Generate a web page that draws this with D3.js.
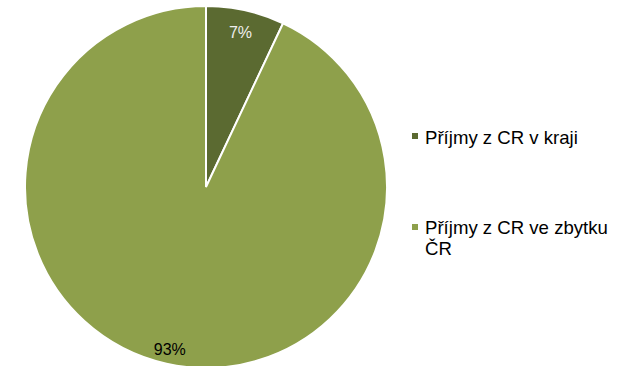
<!DOCTYPE html>
<html>
<head>
<meta charset="utf-8">
<script src="https://cdn.jsdelivr.net/npm/d3@7"></script>
<style>
  html, body { margin: 0; padding: 0; background: #fff; }
  svg { display: block; font-family: "Liberation Sans", Arial, sans-serif; }
</style>
</head>
<body>
<div id="chart"></div>
<script>
// data
const categories = ['Příjmy z CR v kraji', 'Příjmy z CR ve zbytku ČR']
const legend_lines = [['Příjmy z CR v kraji'], ['Příjmy z CR ve zbytku', 'ČR']]
const values = [7, 93]
const value_labels = ['7%', '93%']
const colors = ['#5b6a31', '#8ea04b']

const width = 617, height = 366
const cx = 206, cy = 187, radius = 181

const svg = d3.select('#chart').append('svg')
  .attr('width', width)
  .attr('height', height)

const pie = d3.pie().sort(null).value(d => d)
const arcs = pie(values)
const arc_gen = d3.arc().innerRadius(0).outerRadius(radius)

const pie_g = svg.append('g')
  .attr('transform', `translate(${cx},${cy})`)

pie_g.selectAll('path')
  .data(arcs)
  .join('path')
  .attr('d', arc_gen)
  .attr('fill', (d, i) => colors[i])
  .attr('stroke', '#fff')
  .attr('stroke-width', 2)

// labels near outer edge
const label_r = [158, 166]
pie_g.selectAll('text')
  .data(arcs)
  .join('text')
  .attr('transform', (d, i) => {
    const a = (d.startAngle + d.endAngle) / 2
    return `translate(${Math.sin(a) * label_r[i]},${-Math.cos(a) * label_r[i]})`
  })
  .attr('text-anchor', 'middle')
  .attr('dy', '0.35em')
  .style('font-size', '16px')
  .attr('fill', (d, i) => i === 0 ? '#eeeeee' : '#000')
  .text((d, i) => value_labels[i])

// legend
const legend_y = [144, 234]
const legend = svg.append('g')
  .selectAll('g')
  .data(categories)
  .join('g')
  .attr('transform', (d, i) => `translate(412,${legend_y[i]})`)

legend.append('rect')
  .attr('x', 0)
  .attr('y', (d, i) => i === 0 ? -11 : -10)
  .attr('width', 6)
  .attr('height', 6)
  .attr('fill', (d, i) => colors[i])

legend.append('text')
  .style('font-size', '18.6px')
  .attr('fill', '#000')
  .each(function(d, i){
    const t = d3.select(this)
    legend_lines[i].forEach((line, j) => {
      t.append('tspan')
        .attr('x', 13)
        .attr('y', j * 21)
        .text(line)
    })
  })
</script>
</body>
</html>
